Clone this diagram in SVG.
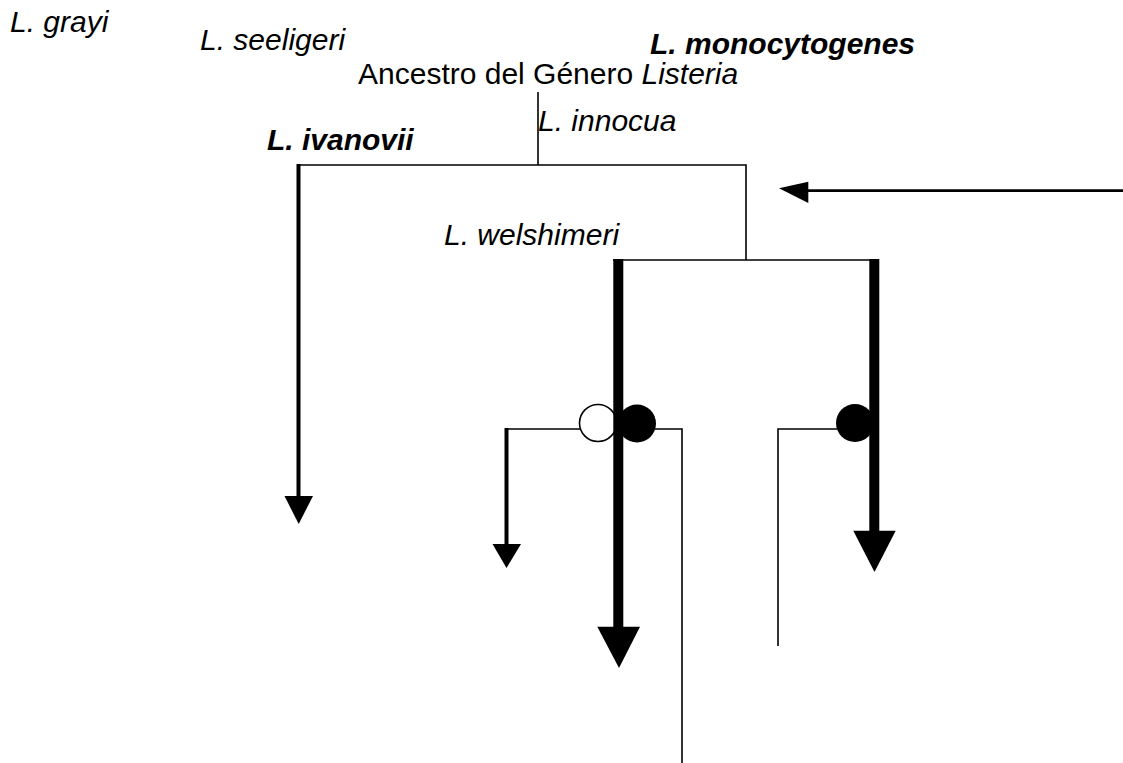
<svg xmlns="http://www.w3.org/2000/svg" width="1123" height="763" viewBox="0 0 1123 763">
<style>
text{font-family:"Liberation Sans",Arial,sans-serif;font-size:30px;fill:#000}
.it{font-style:italic}
.bi{font-style:italic;font-weight:bold}
.thin{stroke:#000;stroke-width:1.6;fill:none}
.med{stroke:#000;stroke-width:4;fill:none}
.thick{stroke:#000;stroke-width:10;fill:none}
.head{fill:#000;stroke:none}
</style>
<rect width="1123" height="763" fill="#fff"/>
<g id="connectors">
<line class="thin" x1="538" y1="92" x2="538" y2="165"/>
<polyline class="thin" points="297,165 746,165 746,260"/>
<line class="thin" x1="613" y1="260" x2="879" y2="260"/>
<line class="med" x1="298.5" y1="164" x2="298.5" y2="497"/>
<polygon class="head" points="284.5,496 313,496 298.7,524"/>
<line class="thin" x1="506" y1="429" x2="580" y2="429"/>
<line class="med" x1="506.5" y1="428" x2="506.5" y2="545"/>
<polygon class="head" points="492.5,544 521,544 506.5,568"/>
<polyline class="thin" points="655,429 682,429 682,763"/>
<polyline class="thin" points="837,429 778,429 778,646"/>
<line class="thin" x1="808" y1="190.7" x2="1123" y2="190.7" style="stroke-width:2.7"/>
<polygon class="head" points="779,188.3 808.3,181.7 808.3,203"/>
</g>
<g id="node-open">
<circle cx="598" cy="423" r="18.5" fill="#fff" stroke="#000" stroke-width="1.6"/>
</g>
<g id="connectors-thick">
<line class="thick" x1="618.3" y1="259" x2="618.3" y2="628"/>
<polygon class="head" points="597.3,626.7 640,626.7 619,668"/>
<line class="thick" x1="874.3" y1="259" x2="874.3" y2="532"/>
<polygon class="head" points="853.3,530.7 895.7,530.7 874.5,572"/>
</g>
<g id="node-filled-1">
<circle cx="637" cy="423.5" r="19" fill="#000"/>
</g>
<g id="node-filled-2">
<circle cx="855" cy="423" r="19" fill="#000"/>
</g>
<g id="node-grayi"><text class="it" x="10" y="32">L. grayi</text></g>
<g id="node-seeligeri"><text class="it" x="200" y="50">L. seeligeri</text></g>
<g id="node-monocytogenes"><text class="bi" x="650" y="54">L. monocytogenes</text></g>
<g id="node-ancestro"><text x="358" y="84">Ancestro del Género <tspan class="it">Listeria</tspan></text></g>
<g id="node-innocua"><text class="it" x="538" y="131">L. innocua</text></g>
<g id="node-ivanovii"><text class="bi" x="267" y="150">L. ivanovii</text></g>
<g id="node-welshimeri"><text class="it" x="444" y="245">L. welshimeri</text></g>
</svg>
